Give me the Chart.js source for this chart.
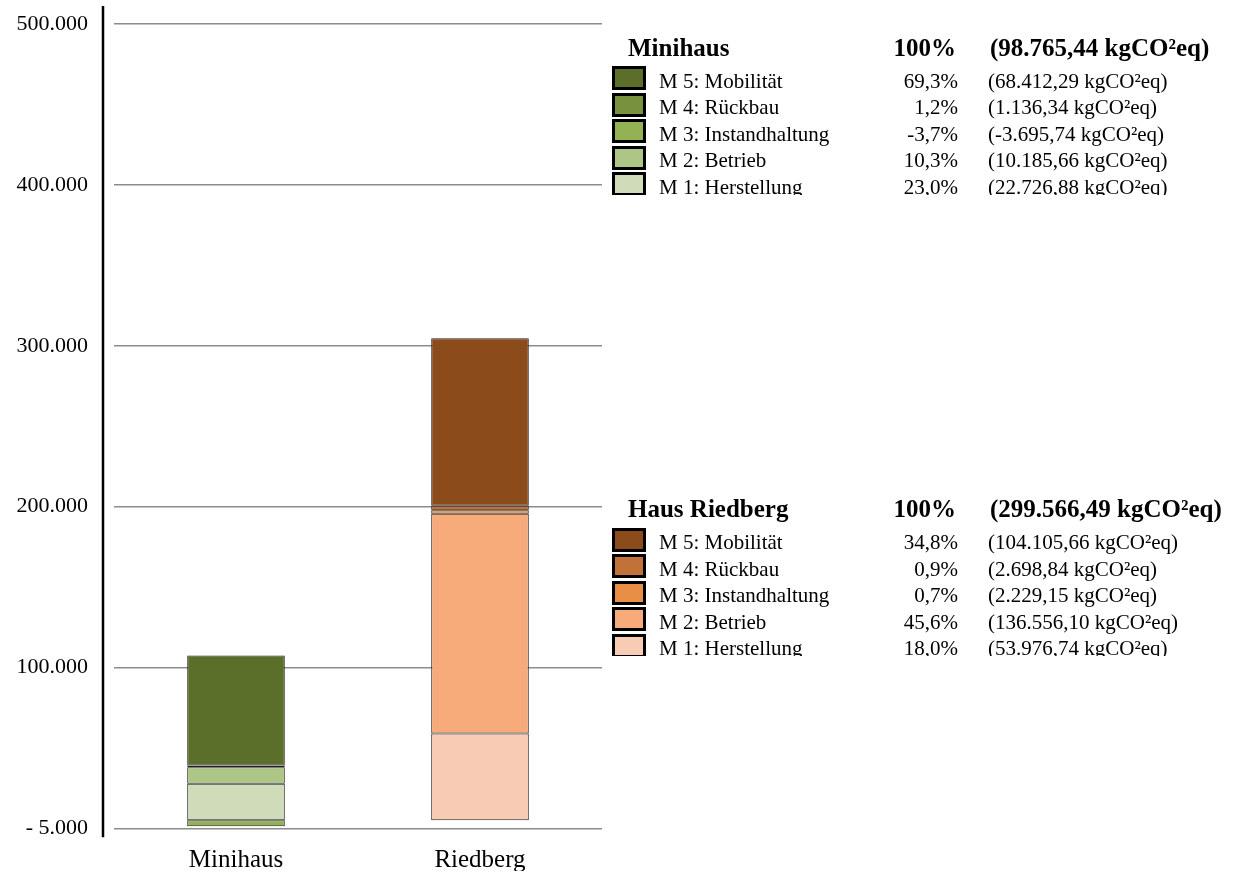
<!DOCTYPE html>
<html lang="de">
<head>
<meta charset="utf-8">
<title>CO2-Bilanz Minihaus / Haus Riedberg</title>
<script src="https://cdn.jsdelivr.net/npm/chart.js@4.4.1/dist/chart.umd.min.js"></script>
<style>
  html, body { margin: 0; padding: 0; background: #fff; }
  #wrap { position: relative; width: 1243px; height: 871px; overflow: hidden;
          font-family: "Liberation Serif", "DejaVu Serif", serif; color: #000; }
  #chart { position: absolute; left: 0; top: 0; }
  .block { position: absolute; left: 600px; width: 643px; overflow: hidden; }
  .t { position: absolute; white-space: nowrap; }
  .body { font-size: 21px; line-height: 21px; }
  .head { font-size: 25px; line-height: 25px; font-weight: bold; }
  .right { text-align: right; }
  .sw { position: absolute; left: 12px; width: 34px; height: 24px; box-sizing: border-box;
        border: 3px solid #000; }
</style>
</head>
<body>
<div id="wrap">
  <canvas id="chart" width="620" height="871"></canvas>
</div>
<script>
// Categories and module names
const categories = ['Minihaus', 'Riedberg'];
const moduleNames = ['M 1: Herstellung', 'M 2: Betrieb', 'M 3: Instandhaltung', 'M 4: Rückbau', 'M 5: Mobilität'];

// Emissions per module (kgCO2eq), ordered M 1 ... M 5
const minihausValues = [22726.88, 10185.66, -3695.74, 1136.34, 68412.29];
const riedbergValues = [53976.74, 136556.10, 2229.15, 2698.84, 104105.66];

// Stated totals per house (kgCO2eq)
const totals = [98765.44, 299566.49];
const blockTitles = ['Minihaus', 'Haus Riedberg'];

// Y axis tick labels
const yTickLabels = ['- 5.000', '100.000', '200.000', '300.000', '400.000', '500.000'];

// Colours per module, M 1 ... M 5
const minihausColors = ['#d0dcb9', '#adc686', '#92b254', '#77913e', '#5b6e2a'];
const riedbergColors = ['#f8ccb4', '#f7ab7a', '#e98f45', '#c07239', '#8b4b1b'];

const FONT = '"Liberation Serif", "DejaVu Serif", serif';

function fmtNum(v) {
  const neg = v < 0;
  const parts = Math.abs(v).toFixed(2).split('.');
  const intPart = parts[0].replace(/\B(?=(\d{3})+(?!\d))/g, '.');
  return (neg ? '-' : '') + intPart + ',' + parts[1];
}
function fmtPct(v) {
  return v.toFixed(1).replace('.', ',') + '%';
}

const datasets = moduleNames.map((name, i) => ({
  label: name,
  data: [minihausValues[i], riedbergValues[i]],
  backgroundColor: [minihausColors[i], riedbergColors[i]],
  borderColor: '#222222',
  borderWidth: 1,
  borderSkipped: false,
  barPercentage: 0.4,
  categoryPercentage: 1.0,
  stack: 'houses'
}));

// Vertical axis line, drawn slightly apart from the gridlines
const axisLine = {
  id: 'axisLine',
  afterDraw(chart) {
    const { ctx, chartArea } = chart;
    ctx.save();
    ctx.strokeStyle = '#000';
    ctx.lineWidth = 2.5;
    ctx.beginPath();
    ctx.moveTo(chartArea.left - 11, chartArea.top - 18);
    ctx.lineTo(chartArea.left - 11, chartArea.bottom + 9);
    ctx.stroke();
    ctx.restore();
  }
};

new Chart(document.getElementById('chart'), {
  type: 'bar',
  data: { labels: categories, datasets },
  plugins: [axisLine],
  options: {
    responsive: false,
    animation: false,
    devicePixelRatio: 1,
    layout: { padding: { top: 24, right: 18, left: 0, bottom: 0 } },
    plugins: { legend: { display: false }, tooltip: { enabled: false } },
    scales: {
      x: {
        stacked: true,
        grid: { display: false },
        border: { display: false },
        ticks: { color: '#000', font: { family: FONT, size: 25 }, padding: 9 },
        afterFit(scale) { scale.height = 42.7; }
      },
      y: {
        stacked: true,
        min: -5000,
        max: 495000,
        grid: {
          color: '#8c8c8c', lineWidth: 1.5,
          drawTicks: true, tickLength: 26, tickColor: 'rgba(0,0,0,0)'
        },
        border: { display: false },
        ticks: {
          stepSize: 100000,
          color: '#000',
          font: { family: FONT, size: 22 },
          padding: 0,
          callback: (value, index) => yTickLabels[index]
        },
        afterFit(scale) { scale.width = 114; }
      }
    }
  }
});

// Side tables: one block per house, rows M 5 at top down to M 1
const wrap = document.getElementById('wrap');
const houseValues = [minihausValues, riedbergValues];
const houseColors = [minihausColors, riedbergColors];
const blockTops = [20, 481.6];
const rowStep = 26.5;

function addText(parent, cls, text, left, baseline, width, alignRight) {
  const el = document.createElement('div');
  el.className = 't ' + cls + (alignRight ? ' right' : '');
  el.textContent = text;
  const asc = cls === 'head' ? 21.0 : 17.6;
  el.style.top = (baseline - asc) + 'px';
  el.style.left = left + 'px';
  if (width) el.style.width = width + 'px';
  parent.appendChild(el);
}

blockTitles.forEach((title, b) => {
  const block = document.createElement('div');
  block.className = 'block';
  block.style.top = blockTops[b] + 'px';
  const firstBase = 68.3;
  block.style.height = (firstBase + 4 * rowStep + 0.3) + 'px';

  addText(block, 'head', title, 28, 35.7);
  addText(block, 'head', '100%', 256, 35.7, 100, true);
  addText(block, 'head', '(' + fmtNum(totals[b]) + ' kgCO²eq)', 390, 35.7);

  for (let r = 0; r < moduleNames.length; r++) {
    const i = moduleNames.length - 1 - r;
    const base = firstBase + r * rowStep;
    const sw = document.createElement('div');
    sw.className = 'sw';
    sw.style.top = (base - 22.3) + 'px';
    sw.style.background = houseColors[b][i];
    block.appendChild(sw);
    addText(block, 'body', moduleNames[i], 59, base);
    addText(block, 'body', fmtPct(houseValues[b][i] / totals[b] * 100), 258, base, 100, true);
    addText(block, 'body', '(' + fmtNum(houseValues[b][i]) + ' kgCO²eq)', 388, base);
  }
  wrap.appendChild(block);
});
</script>
</body>
</html>
